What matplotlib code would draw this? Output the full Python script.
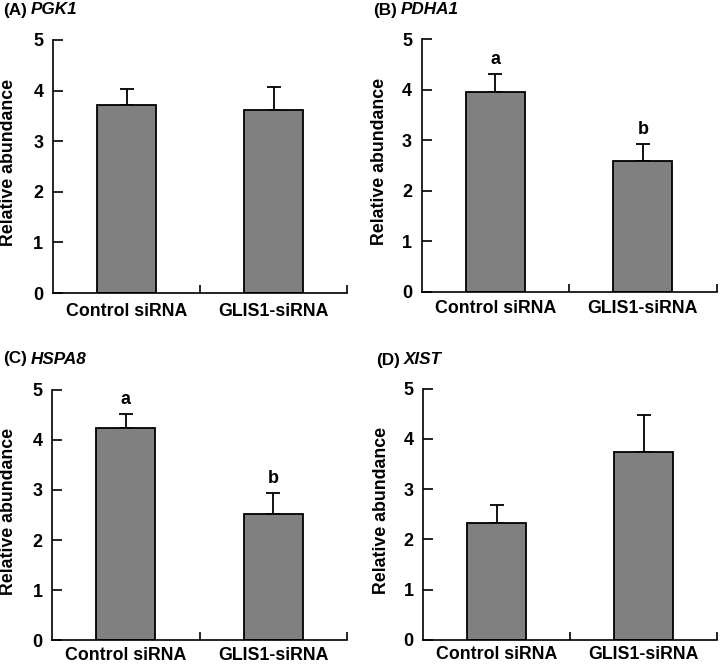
import matplotlib
matplotlib.use("Agg")
import matplotlib.pyplot as plt
from matplotlib.transforms import offset_copy

plt.rcParams['font.family'] = ['Liberation Sans', 'DejaVu Sans']
plt.rcParams['font.weight'] = 'bold'

categories = ["Control siRNA", "GLIS1-siRNA"]
panel_letters = ["(A)", "(B)", "(C)", "(D)"]
genes = ["PGK1", "PDHA1", "HSPA8", "XIST"]
means = [[3.71, 3.62], [3.95, 2.59], [4.23, 2.51], [2.32, 3.73]]
errors = [[0.32, 0.46], [0.36, 0.34], [0.29, 0.42], [0.37, 0.74]]
letters = [None, ["a", "b"], ["a", "b"], None]
yticks = [0, 1, 2, 3, 4, 5]

W, H = 720, 666
fig = plt.figure(figsize=(W / 100, H / 100), dpi=100)
renderer = fig.canvas.get_renderer()

# axes boxes in pixels: left, top(y=5), right, bottom(y=0)
boxes = [(53, 40, 347, 293), (421.7, 39.3, 716.7, 291.7),
         (52.3, 389.7, 346.7, 640.3), (423.3, 388.7, 717.3, 639.7)]
title_pos = [(3, 10), (373, 10), (3, 359), (376, 360)]
ylab_x = [9, 379, 9, 381]
cat_drop_pt = [13.5, 12.0, 10.6, 10.9]  # label centre below axis, points

for i in range(4):
    l, t, r, b = boxes[i]
    ax = fig.add_axes([l / W, 1 - b / H, (r - l) / W, (b - t) / H])
    x = [0, 1]
    ax.bar(x, means[i], width=0.4, color='#808080', edgecolor='black',
           linewidth=1.3, zorder=2)
    ax.errorbar(x, means[i], yerr=[[0, 0], errors[i]], fmt='none',
                ecolor='black', elinewidth=1.3, capsize=5, capthick=1.3,
                zorder=1)
    if letters[i]:
        for j in range(2):
            ax.text(x[j], means[i][j] + errors[i][j] + 0.12, letters[i][j],
                    ha='center', va='bottom', fontsize=13, fontweight='bold')
    ax.set_xlim(-0.5, 1.5)
    ax.set_ylim(0, 5)
    ax.spines['top'].set_visible(False)
    ax.spines['right'].set_visible(False)
    for s in ['left', 'bottom']:
        ax.spines[s].set_linewidth(1.2)
    ax.set_yticks(yticks)
    ax.set_yticklabels([str(v) for v in yticks])
    ax.tick_params(axis='y', direction='in', length=7, width=1.2, pad=7,
                   labelsize=13)
    ax.set_xticks([0.5, 1.5])
    ax.set_xticklabels([])
    ax.tick_params(axis='x', direction='in', length=6, width=1.2)
    trans = offset_copy(ax.get_xaxis_transform(), fig=fig, x=0,
                        y=-cat_drop_pt[i], units='points')
    for j in range(2):
        ax.text(x[j], 0, categories[j], ha='center', va='center',
                fontsize=12.8, fontweight='bold', transform=trans,
                clip_on=False)
    for lab in ax.get_yticklabels():
        lab.set_fontweight('bold')
    cy = (t + b) / 2
    fig.text(ylab_x[i] / W, 1 - (cy - 4) / H, "Relative abundance",
             rotation=90, ha='center', va='center', fontsize=12.8,
             fontweight='bold')
    tx, ty = title_pos[i]
    t1 = fig.text(tx / W, 1 - ty / H, panel_letters[i],
                  ha='left', va='center', fontsize=12.3, fontweight='bold')
    bb = t1.get_window_extent(renderer=renderer)
    fig.text((bb.x1 + 4) / W, 1 - ty / H, genes[i], ha='left', va='center',
             fontsize=12.3, fontweight='bold', style='italic')

fig.savefig("out.png", dpi=100)
